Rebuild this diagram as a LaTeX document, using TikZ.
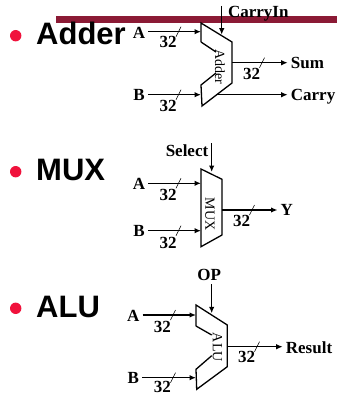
\documentclass[tikz,border=0pt]{standalone}
\usepackage{fontspec}
\setmainfont{Liberation Serif}
\newfontfamily\titlefont{Liberation Sans}
\usetikzlibrary{arrows.meta}
\definecolor{barred}{HTML}{8B1A35}
\definecolor{bulletred}{HTML}{F0123C}

\begin{document}
\begin{tikzpicture}[
    x=1pt, y=-1pt,
    >={Latex[length=6.5pt,width=5.5pt]}, % Set default arrow tip style
    signal/.style={font=\fontsize{17}{20}\selectfont\bfseries, inner sep=3pt}, % Style for the labels
    width/.style={font=\fontsize{17}{20}\selectfont\bfseries, inner sep=0pt}, % Style for the 32s
    blockname/.style={font=\fontsize{14}{16}\selectfont, rotate=-90, inner sep=0pt},
    title/.style={font=\fontsize{31}{36}\selectfont\titlefont\bfseries, anchor=base west, inner sep=0pt},
    wire/.style={->, line width=1.3pt},
    block/.style={line width=1.3pt, line join=miter},
    tick/.style={line width=0.6pt}
]
    \useasboundingbox (0,0) rectangle (337,396);

    % --- Layer 1: Title bar ---
    \fill[barred] (56,16) rectangle (337,23);

    % --- Layer 2: Bullets and headings ---
    \foreach \name/\text/\bully/\basey in {adder/Adder/35.7/45, mux/MUX/171.7/180.7, alu/ALU/308.3/317} {
        \fill[bulletred] (15.7,\bully) circle (5.7);
        \node[title] (\name title) at (36,\basey) {\text};
    }

    % --- Adder ---
    \draw[block] (201,42) -- (201,23) -- (232,42) -- (232,83) -- (202,106) -- (201,85) -- (216,73);
    \draw[block] (201,42) -- (216,52);
    \node[blockname] (addername) at (220,67) {Adder};
    \coordinate (adderAport) at (201,31.7);
    \coordinate (adderBport) at (201,94.7);
    \coordinate (adderSumport) at (232,62.7);
    \coordinate (adderCarryport) at (216,94.7);
    \coordinate (adderCin) at (221.7,6);
    \coordinate (adderCport) at (221.7,34.7);
    \node[signal] (adderA) at (139,33) {A};
    \node[signal] (adderB) at (139,95) {B};
    \node[signal, anchor=west] (adderSum) at (287.7,63.3) {Sum};
    \node[signal, anchor=west] (adderCarry) at (287.7,96.5) {Carry};
    \node[signal] (adderCarryIn) at (258.3,13.5) {CarryIn};
    \draw[wire] (adderA.east |- adderAport) -- (adderAport);
    \draw[wire] (adderB.east |- adderBport) -- (adderBport);
    \draw[wire] (adderSumport) -- (adderSumport -| adderSum.west);
    \draw[wire] (adderCarryport) -- (adderCarryport -| adderCarry.west);
    \draw[wire] (adderCin) -- (adderCport);

    % --- MUX ---
    \draw[block] (201,169) -- (222,179.3) -- (222,235) -- (201,246.7) -- cycle;
    \node[blockname] (muxname) at (210,214) {MUX};
    \coordinate (muxAport) at (201,183.3);
    \coordinate (muxBport) at (201,230.7);
    \coordinate (muxYport) at (222,210);
    \coordinate (muxSin) at (211.7,143);
    \coordinate (muxSport) at (211.7,172);
    \node[signal] (muxA) at (139,184) {A};
    \node[signal] (muxB) at (139,231) {B};
    \node[signal, anchor=west] (muxY) at (277.5,210) {Y};
    \node[signal] (muxSelect) at (187,150.7) {Select};
    \draw[wire] (muxA.east |- muxAport) -- (muxAport);
    \draw[wire] (muxB.east |- muxBport) -- (muxBport);
    \draw[wire] (muxYport) -- (muxYport -| muxY.west);
    \draw[wire] (muxSin) -- (muxSport);

    % --- ALU ---
    \draw[block] (196,326) -- (196,305) -- (227.3,325) -- (227.3,366.7) -- (196.7,389.3) -- (196,369.3) -- (211.7,355.7);
    \draw[block] (196,326) -- (211.7,335);
    \node[blockname] (aluname) at (217.3,347.3) {ALU};
    \coordinate (aluAport) at (196,315);
    \coordinate (aluBport) at (196,377.7);
    \coordinate (aluRport) at (227.3,346.7);
    \coordinate (aluOin) at (211.7,284);
    \coordinate (aluOport) at (211.7,313.3);
    \node[signal] (aluA) at (133.3,315.7) {A};
    \node[signal] (aluB) at (133.3,378.3) {B};
    \node[signal, anchor=west] (aluResult) at (282.7,347.7) {Result};
    \node[signal] (aluOP) at (209.3,275) {OP};
    \draw[wire] (aluA.east |- aluAport) -- (aluAport);
    \draw[wire] (aluB.east |- aluBport) -- (aluBport);
    \draw[wire] (aluRport) -- (aluRport -| aluResult.west);
    \draw[wire] (aluOin) -- (aluOport);

    % --- Bus widths: tick on the wire, then its label ---
    \foreach \tx/\ty/\lx/\ly in {178.5/31.7/168/42, 178.5/94.7/168/106, 262/62.7/251.7/74,
                                 178.5/183.3/168/195, 178.5/230.7/168/242.7, 252/210/241.7/220.7,
                                 173/315/162.3/326.7, 173/377.7/162.3/387, 257/346.7/246.7/357.3} {
        \draw[tick] (\tx+2.5,\ty-5) -- (\tx-2.5,\ty+5);
        \node[width] at (\lx,\ly) {32};
    }
\end{tikzpicture}
\end{document}
